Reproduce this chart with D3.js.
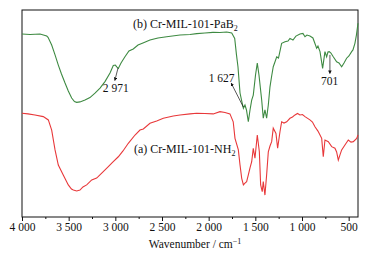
<!DOCTYPE html>
<html>
<head>
<meta charset="utf-8">
<script src="https://cdn.jsdelivr.net/npm/d3@7"></script>
<style>
  body { margin: 0; background: #fff; }
  text { font-family: "Liberation Serif", "Times New Roman", serif; fill: #111; }
</style>
</head>
<body>
<script>
// ================= Data =============================================
// wavenumber (cm-1) and relative transmittance (0-100, arbitrary)
const wnB = [4000,3914,3807,3735,3721,3682,3646,3611,3577,3539,3504,3468,3438,3414,3379,3325,3272,3218,3164,3111,3057,3022,3000,2985,2968,2939,2897,2854,2808,2757,2704,2629,2543,2450,2307,2200,2128,2040,1954,1879,1807,1753,1721,1702,1686,1664,1648,1628,1611,1595,1575,1557,1539,1522,1498,1479,1461,1432,1415,1397,1379,1361,1343,1325,1308,1290,1271,1252,1218,1182,1150,1129,1097,1065,1022,990,968,947,915,883,843,829,807,779,754,736,722,708,690,665,629,604,575,550,522,497,468,454,433,417,400];
const tB  = [88.4,88.2,88.4,87.4,86.8,83.1,78.3,73.4,69.1,64.7,60.9,57.5,55.8,55.4,55.6,56.5,57.7,59.8,62.3,65.4,69.6,73.2,73.4,72.5,71.8,74.4,77.4,80.2,81.2,83.1,84.1,85.5,86.5,87.1,87.9,88.2,88.6,88.9,89.2,89.1,89.4,88.9,86.3,78.3,72.6,59.9,56.5,52.5,54.1,51.7,46.0,51.7,56.5,58.9,68.6,74.3,68.6,56.5,47.7,51.7,47.7,54.1,62.9,68.1,72.6,74.9,77.4,76.8,83.9,84.7,85.0,86.3,85.5,87.4,88.4,88.7,87.1,87.9,87.4,86.5,81.5,82.6,79.9,71.8,79.9,77.4,79.7,79.9,79.2,77.4,75.0,74.4,72.6,74.4,76.7,77.8,79.9,80.7,83.9,87.9,93.6];

const wnA = [4000,3936,3861,3772,3718,3682,3646,3611,3558,3504,3470,3450,3414,3379,3347,3307,3253,3200,3143,3075,3025,2968,2918,2861,2789,2736,2700,2629,2557,2486,2379,2307,2200,2128,2040,1951,1879,1825,1772,1737,1718,1682,1664,1646,1628,1611,1593,1575,1557,1539,1522,1504,1479,1457,1443,1426,1415,1397,1379,1361,1343,1325,1308,1279,1261,1236,1218,1193,1164,1129,1102,1075,1048,1022,995,968,915,888,861,829,807,789,772,754,718,682,647,629,611,593,575,540,504,475,450,414,400];
const tA  = [50.1,49.8,49.3,48.5,46.9,42.0,32.4,25.1,20.3,15.5,13.5,13.0,12.6,13.0,14.5,15.5,17.9,18.8,21.3,24.3,26.6,29.1,31.9,35.6,39.6,42.0,42.5,45.3,46.4,47.7,48.8,49.3,49.8,50.1,50.0,49.8,50.9,50.5,49.8,46.0,38.0,32.4,25.1,18.7,15.5,16.4,17.1,20.3,23.7,26.7,33.2,28.4,39.6,31.5,15.5,12.2,17.1,10.6,20.3,31.5,34.3,36.4,42.9,40.4,33.2,41.2,46.0,45.4,46.0,47.7,48.3,49.3,50.0,49.3,49.5,48.5,46.9,45.9,43.6,41.5,39.6,38.0,29.1,37.2,36.4,34.0,33.2,31.4,27.5,30.0,32.4,34.8,37.2,36.2,36.4,38.0,39.6];

const xTicks = [4000,3500,3000,2500,2000,1500,1000,500];
const xMinor = [3750,3250,2750,2250,1750,1250,750];

// peak annotations: text, arrow from the dip to the label, label position
const peakText  = ["2 971", "1 627", "701"];
const peakDip   = [[2971, 72.0], [1628, 53.1], [701, 78.3]];
const peakArrow = [[3005, 66.0], [1758, 64.6], [701, 69.4]];
const peakLabel = [[2996, 60.6], [1861, 65.4], [705, 63.8]];

// ================== LAYOUT ===========================
const width = 378, height = 254;
const margin = {left: 22, right: 20, top: 10, bottom: 37};
const w = width - margin.left - margin.right;
const h = height - margin.top - margin.bottom;

const svg = d3.select("body").append("svg")
  .attr("width", width).attr("height", height);

const g = svg.append("g")
  .attr("transform", `translate(${margin.left},${margin.top})`);

const x = d3.scaleLinear().domain([4000, 400]).range([0, w]);
const y = d3.scaleLinear().domain([0, 100]).range([h, 0]);

// frame
g.append("rect").attr("width", w).attr("height", h)
  .attr("fill", "none").attr("stroke", "#111").attr("stroke-width", 1);

// ===================== AXIS: X =======================
const xAxis = d3.axisBottom(x).tickValues(xTicks).tickSize(4).tickPadding(2)
  .tickFormat(d => d3.format(",")(d).replace(",", " "));
const ax = g.append("g").attr("transform", `translate(0,${h})`).call(xAxis);
ax.select(".domain").remove();
ax.selectAll("text").style("font-size", "11.5px")
  .style("font-family", "Liberation Serif, serif").attr("fill", "#111");
ax.selectAll("line").attr("stroke", "#111");

g.append("g").attr("transform", `translate(0,${h})`)
  .call(d3.axisBottom(x).tickValues(xMinor).tickSize(2).tickFormat(""))
  .call(s => s.select(".domain").remove())
  .selectAll("line").attr("stroke", "#111");

const title = g.append("text")
  .attr("x", w / 2 + 5).attr("y", h + 31)
  .attr("text-anchor", "middle").style("font-size", "11.5px");
title.append("tspan").text("Wavenumber / cm");
title.append("tspan").text("\u22121").attr("dy", -4).style("font-size", "8px");

// ==================== Lines ===========================
const line = d3.line().x(d => x(d[0])).y(d => y(d[1]));

g.append("path").datum(d3.zip(wnA, tA))
  .attr("fill", "none").attr("stroke", "#e8383a").attr("stroke-width", 1.1)
  .attr("d", line);

g.append("path").datum(d3.zip(wnB, tB))
  .attr("fill", "none").attr("stroke", "#3e8a42").attr("stroke-width", 1.1)
  .attr("d", line);

// ==================== Labels ===========================
function seriesLabel(txt, sub, xpos, ypos) {
  const t = g.append("text").attr("x", xpos).attr("y", ypos).style("font-size", "12px");
  t.append("tspan").text(txt);
  t.append("tspan").text(sub).attr("dy", 3).style("font-size", "8px");
}
seriesLabel("(b) Cr-MIL-101-PaB", "2", 111, 18);
seriesLabel("(a) Cr-MIL-101-NH", "2", 112, 143);

// arrowhead
svg.append("defs").append("marker").attr("id", "arr").attr("viewBox", "0 0 6 6")
  .attr("refX", 5).attr("refY", 3).attr("markerWidth", 5).attr("markerHeight", 5)
  .attr("orient", "auto")
  .append("path").attr("d", "M0,0 L6,3 L0,6 Z").attr("fill", "#111");

peakText.forEach((t, i) => {
  g.append("line")
    .attr("x1", x(peakDip[i][0])).attr("y1", y(peakDip[i][1]))
    .attr("x2", x(peakArrow[i][0])).attr("y2", y(peakArrow[i][1]))
    .attr("stroke", "#111").attr("stroke-width", 0.7)
    .attr("marker-end", "url(#arr)");
  g.append("text").attr("x", x(peakLabel[i][0])).attr("y", y(peakLabel[i][1]))
    .attr("text-anchor", "middle").style("font-size", "11.5px").text(t);
});
</script>
</body>
</html>
